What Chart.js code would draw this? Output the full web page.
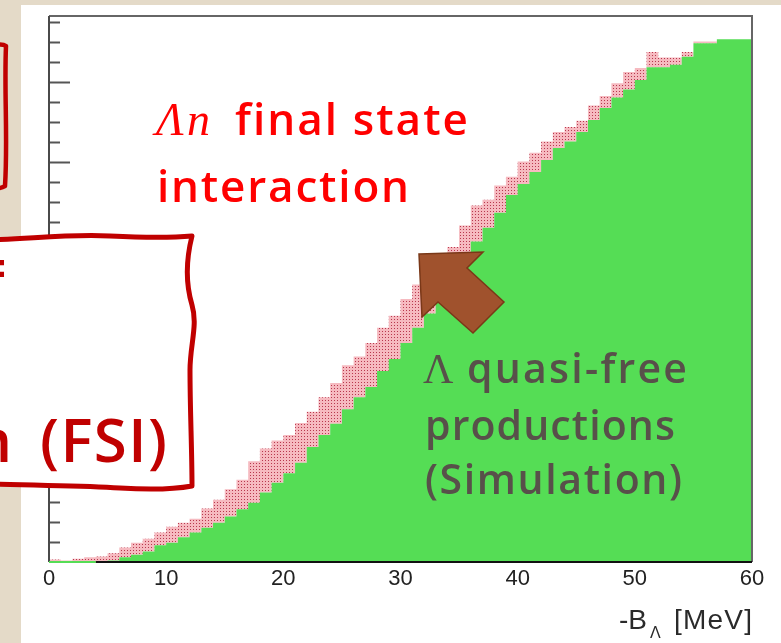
<!DOCTYPE html>
<html>
<head>
<meta charset="utf-8">
<title>Lambda binding energy spectrum</title>
<script src="https://cdn.jsdelivr.net/npm/chart.js@4.4.1/dist/chart.umd.min.js"></script>
<style>
  html, body { margin: 0; padding: 0; background: #E4DAC8; overflow: hidden; }
  #wrap { position: relative; width: 781px; height: 643px; }
  canvas { display: block; }
</style>
</head>
<body>
<div id="wrap"><canvas id="c" width="781" height="643"></canvas></div>
<script>
// Histogram: -B_Lambda in 1 MeV bins from 0 to 60 MeV
const binStart = 0;
const binWidth = 1;
// Lambda quasi-free production (simulation), counts per bin
const quasiFree = [0, 0, 0, 0, 0, 0, 2, 6, 9, 13, 21, 24, 31, 37, 43, 49, 57, 66, 74, 87,
  99, 111, 124, 144, 159, 173, 191, 206, 219, 239, 254, 274, 293, 311, 332, 363, 384, 401, 418, 437,
  459, 473, 488, 503, 518, 526, 538, 553, 568, 581, 591, 603, 619, 619, 622, 632, 649, 649, 654, 654];
// Additional counts from the Lambda-n final state interaction, stacked on top
const fsiExtra = [0, 3, 2, 4, 6, 7, 9, 12, 15, 16, 16, 20, 18, 17, 24, 29, 34, 37, 52, 55,
  53, 48, 50, 44, 47, 51, 55, 51, 55, 54, 54, 55, 54, 48, 44, 31, 37, 45, 35, 34,
  23, 28, 24, 23, 20, 18, 14, 18, 15, 18, 22, 15, 19, 12, 9, 6, 2, 2, 0, 0];
// Axis settings
const xTickValues = [0, 10, 20, 30, 40, 50, 60];
const yMax = 683;
const yMinorStep = 25;
const yMajorStep = 100;
const fsiThreshold = 4; // MeV, below this the baseline is drawn in green

// step-histogram points: one per bin low edge, plus the closing upper edge
function toSteps(values) {
  const pts = values.map((v, i) => ({ x: binStart + i * binWidth, y: v }));
  pts.push({ x: binStart + values.length * binWidth, y: values[values.length - 1] });
  return pts;
}

const canvas = document.getElementById('c');
const ctx0 = canvas.getContext('2d');

// ROOT-style dotted fill for the FSI component
function dotPattern() {
  const t = document.createElement('canvas');
  t.width = 3; t.height = 3;
  const g = t.getContext('2d');
  g.fillStyle = '#F6BAC0';
  g.fillRect(0, 0, 3, 3);
  g.fillStyle = '#B8384E';
  g.fillRect(1, 1, 1, 1);
  return ctx0.createPattern(t, 'repeat');
}

function fitText(ctx, str, x, y, font, color, width, align) {
  ctx.font = font;
  ctx.fillStyle = color;
  ctx.textBaseline = 'alphabetic';
  ctx.letterSpacing = '0px';
  const w0 = ctx.measureText(str).width;
  const n = Array.from(str).length;
  let sp = 0;
  if (width && n > 1) sp = (width - w0) / (n - 1);
  ctx.letterSpacing = sp.toFixed(2) + 'px';
  ctx.textAlign = 'left';
  const total = w0 + sp * (n - 1);
  const x0 = align === 'right' ? x - total : x;
  ctx.fillText(str, x0, y);
  ctx.letterSpacing = '0px';
}

const noteFont = (px) => '600 ' + px + 'px "Open Sans", Roboto, sans-serif';

const decorations = {
  id: 'decorations',
  beforeDraw(chart) {
    const ctx = chart.ctx;
    ctx.save();
    ctx.fillStyle = '#E4DAC8';
    ctx.fillRect(0, 0, chart.width, chart.height);
    ctx.fillStyle = '#FFFFFF';
    ctx.fillRect(21, 5, chart.width - 21, chart.height - 5);
    ctx.restore();
  },
  afterDatasetsDraw(chart) {
    const ctx = chart.ctx;
    const xs = chart.scales.x, ys = chart.scales.y;
    const ca = chart.chartArea;
    ctx.save();
    // y-axis ticks pointing into the frame
    ctx.strokeStyle = '#555555';
    ctx.lineWidth = 2;
    for (let v = yMinorStep; v <= yMax; v += yMinorStep) {
      const py = Math.round(ys.getPixelForValue(v)) + 0.5;
      const len = v % yMajorStep === 0 ? 21 : 11;
      ctx.beginPath();
      ctx.moveTo(ca.left, py);
      ctx.lineTo(ca.left + len, py);
      ctx.stroke();
    }
    // frame
    ctx.strokeStyle = '#666666';
    ctx.lineWidth = 2;
    ctx.beginPath();
    ctx.moveTo(ca.left, ca.top);
    ctx.lineTo(ca.right, ca.top);
    ctx.lineTo(ca.right, ca.bottom);
    ctx.stroke();
    ctx.strokeStyle = '#4A4A4A';
    ctx.beginPath();
    ctx.moveTo(ca.left, ca.top);
    ctx.lineTo(ca.left, ca.bottom);
    ctx.stroke();
    // baseline of the histograms
    const y0 = ys.getPixelForValue(0);
    const xf = xs.getPixelForValue(fsiThreshold);
    ctx.lineWidth = 2;
    ctx.strokeStyle = '#55DD55';
    ctx.beginPath();
    ctx.moveTo(ca.left, y0); ctx.lineTo(xf, y0); ctx.stroke();
    ctx.strokeStyle = '#111111';
    ctx.beginPath();
    ctx.moveTo(xf, y0); ctx.lineTo(ca.right, y0); ctx.stroke();
    ctx.restore();
  },
  afterDraw(chart) {
    const ctx = chart.ctx;
    ctx.save();

    // axis title  -B_Lambda [MeV]
    const titleFont = '28px "Liberation Sans", Arial, sans-serif';
    ctx.fillStyle = '#2A2A2A';
    ctx.textAlign = 'left';
    ctx.textBaseline = 'alphabetic';
    ctx.font = titleFont;
    ctx.fillText('-B', 619, 629);
    ctx.font = '16px "Liberation Sans", Arial, sans-serif';
    ctx.fillText('\u039B', 650, 638);
    fitText(ctx, '[MeV]', 674, 629, titleFont, '#2A2A2A', 78);

    // red note in the upper part of the frame
    fitText(ctx, '\u039Bn', 156, 135, 'italic 46px "Liberation Serif", "DejaVu Serif", serif', '#FF0000', 54);
    fitText(ctx, 'final state', 235, 135, noteFont(44), '#FF0000', 233);
    fitText(ctx, 'interaction', 157, 202, noteFont(44), '#FF0000', 252);

    // label on the simulated quasi-free component
    const grey = '#58504A';
    fitText(ctx, '\u039B', 423, 383, '42px "Liberation Serif", "DejaVu Serif", serif', grey, 29);
    fitText(ctx, 'quasi-free', 467, 383, noteFont(41), grey, 220);
    fitText(ctx, 'productions', 425, 440, noteFont(41), grey, 250);
    fitText(ctx, '(Simulation)', 425, 494, noteFont(41), grey, 257);

    // arrow pointing at the FSI band
    ctx.beginPath();
    ctx.moveTo(419, 254);
    ctx.lineTo(483, 252);
    ctx.lineTo(467, 268);
    ctx.lineTo(504, 302);
    ctx.lineTo(473, 333);
    ctx.lineTo(438, 302);
    ctx.lineTo(422, 317);
    ctx.closePath();
    ctx.fillStyle = '#A0522D';
    ctx.fill();
    ctx.lineWidth = 1.5;
    ctx.strokeStyle = '#7A3818';
    ctx.stroke();

    // hand-drawn frames on the left
    const red = '#C00000';
    ctx.strokeStyle = red;
    ctx.lineCap = 'round';
    ctx.lineJoin = 'round';
    ctx.lineWidth = 4.5;
    ctx.beginPath();
    ctx.moveTo(-10, 46);
    ctx.quadraticCurveTo(2, 43, 6, 46);
    ctx.bezierCurveTo(4, 90, 8, 140, 5, 186);
    ctx.quadraticCurveTo(0, 189, -10, 189);
    ctx.stroke();

    ctx.beginPath();
    ctx.moveTo(-10, 240);
    ctx.bezierCurveTo(40, 238, 70, 234, 110, 236);
    ctx.bezierCurveTo(150, 238, 170, 238, 192, 236);
    ctx.bezierCurveTo(186, 260, 186, 285, 192, 305);
    ctx.bezierCurveTo(198, 325, 190, 345, 190, 370);
    ctx.bezierCurveTo(190, 410, 192, 450, 192, 486);
    ctx.bezierCurveTo(170, 490, 150, 490, 120, 488);
    ctx.bezierCurveTo(80, 485, 40, 486, -10, 484);
    ctx.closePath();
    ctx.fillStyle = '#FFFFFF';
    ctx.fill();
    ctx.lineWidth = 5;
    ctx.stroke();

    fitText(ctx, '(FSI)', 40, 462, noteFont(60), red, 127);
    fitText(ctx, 'n', 12, 462, noteFont(60), red, 0, 'right');
    fitText(ctx, '=', 7, 290, noteFont(60), red, 0, 'right');

    ctx.restore();
  }
};

const chart = new Chart(canvas, {
  type: 'line',
  data: {
    datasets: [
      {
        label: '\u039B quasi-free productions (Simulation)',
        data: toSteps(quasiFree),
        stepped: 'after',
        fill: 'origin',
        backgroundColor: '#55DD55',
        borderColor: 'rgba(0,0,0,0)',
        borderWidth: 0,
        pointRadius: 0
      },
      {
        label: '\u039Bn final state interaction',
        data: toSteps(fsiExtra),
        stepped: 'after',
        fill: '-1',
        backgroundColor: dotPattern(),
        borderColor: 'rgba(0,0,0,0)',
        borderWidth: 0,
        pointRadius: 0
      }
    ]
  },
  options: {
    responsive: false,
    animation: false,
    devicePixelRatio: 1,
    layout: { padding: { left: 49, right: 29, top: 16, bottom: 0 } },
    plugins: {
      legend: { display: false },
      tooltip: { enabled: false },
      filler: { propagate: false }
    },
    scales: {
      x: {
        type: 'linear',
        min: 0,
        max: 60,
        afterBuildTicks(scale) { scale.ticks = xTickValues.map(v => ({ value: v })); },
        ticks: {
          color: '#222222',
          font: { family: '"Liberation Sans", Arial, sans-serif', size: 22 },
          padding: 4,
          maxRotation: 0,
          autoSkip: false
        },
        grid: { display: false, drawTicks: false },
        border: { display: false },
        afterFit(scale) { scale.height = 81; }
      },
      y: {
        display: false,
        stacked: true,
        min: 0,
        max: yMax
      }
    }
  },
  plugins: [decorations]
});
</script>
</body>
</html>
